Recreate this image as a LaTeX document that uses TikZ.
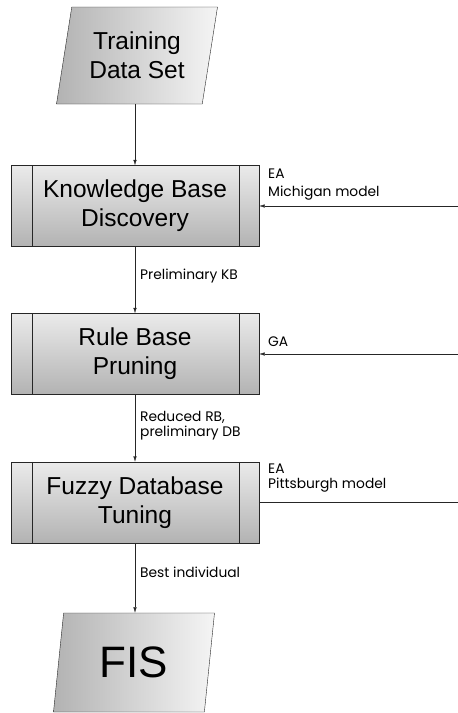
\documentclass[tikz,border=0pt]{standalone}
\usepackage{fontspec}
\setmainfont{Liberation Sans}
\newfontfamily\lblfont{Poppins}
\usetikzlibrary{shapes.geometric,arrows.meta}

\begin{document}
\begin{tikzpicture}[
  x=1pt, y=-1pt,
  fl/.style   = {-{Latex[length=5.5pt,width=3.4pt]}, black!85},
  proc/.style = {draw=black!85, minimum width=248pt, minimum height=81pt,
                 top color=black!8, bottom color=black!30, align=center,
                 inner sep=0pt, font=\fontsize{24.5}{29}\selectfont},
  io/.style   = {trapezium, trapezium left angle=72, trapezium right angle=108,
                 trapezium stretches body, draw=black!85, left color=black!30,
                 right color=black!4, align=center, inner sep=0pt,
                 minimum width=161pt, minimum height=97pt,
                 font=\fontsize{24.5}{29}\selectfont},
  lbl/.style  = {font=\lblfont\fontsize{13.8}{18}\selectfont, align=left,
                 inner sep=0pt, anchor=north west},
]
\useasboundingbox (0,0) rectangle (458,713);

% ================= flow ================================================
\node[io] (train) at (137,55.5) {Training\\Data Set};
\node[proc] (kb)  at (135,206)   {Knowledge Base\\Discovery};
\node[proc] (rbp) at (135,354)   {Rule Base\\Pruning};
\node[proc] (fdt) at (135,502.5) {Fuzzy Database\\Tuning};
\node[io, minimum height=99pt, font=\fontsize{44}{44}\selectfont]
  (fis) at (134,662.5) {FIS};

% side bars of the process boxes
\foreach \n in {kb,rbp,fdt} {
  \draw[black!85] ([xshift=21pt]\n.north west) -- ([xshift=21pt]\n.south west);
  \draw[black!85] ([xshift=-20pt]\n.north east) -- ([xshift=-20pt]\n.south east);
}

% ================= inputs from the right ===============================
\coordinate (michin) at (458,206);
\coordinate (gain)   at (458,354);
\coordinate (pittin) at (458,502.5);

\node[lbl] (michlbl) at (268,169) {EA\\Michigan model};
\node[lbl] (galbl)   at (268,337) {GA};
\node[lbl] (pittlbl) at (268,464) {EA\\[-3pt]Pittsburgh model};

% ================= edges ===============================================
\draw[fl] (train.south -| kb.north) -- (kb.north);
\draw[fl] (kb)  -- (rbp);
\draw[fl] (rbp) -- (fdt);
\draw[fl] (fdt.south) -- (fdt.south |- fis.north);
\draw[fl] (michin) -- (kb.east);
\draw[fl] (gain)   -- (rbp.east);
\draw[black!85] (fdt.east) -- (pittin);

\node[lbl] (kblbl)   at (140,269) {Preliminary KB};
\node[lbl] (rblbl)   at (140,411) {Reduced RB,\\[-3pt]preliminary DB};
\node[lbl] (bestlbl) at (140,567) {Best individual};

\end{tikzpicture}
\end{document}
